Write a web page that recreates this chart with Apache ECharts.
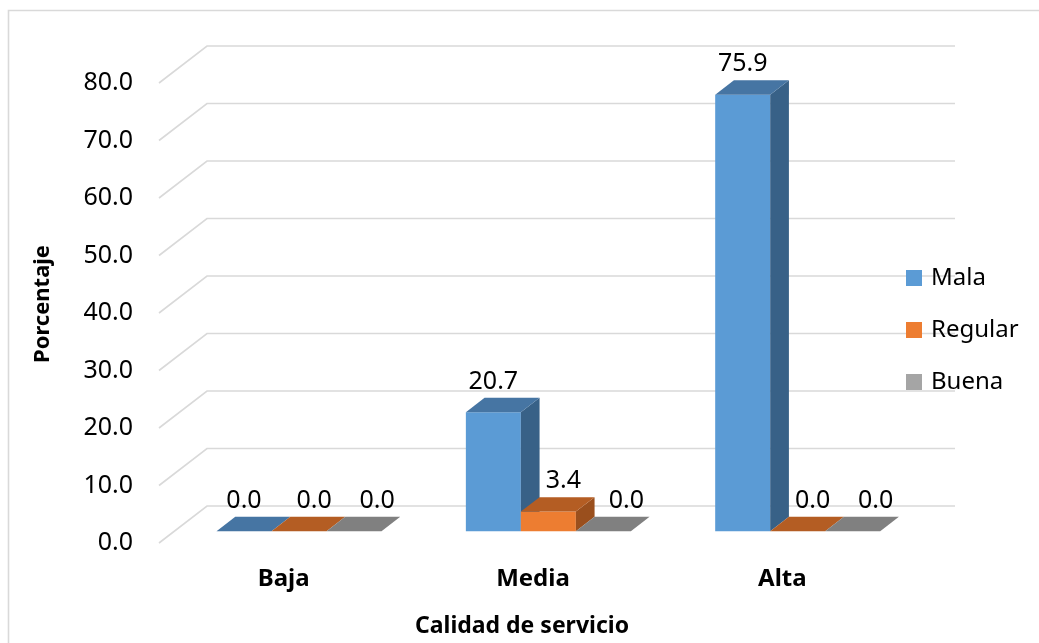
<!DOCTYPE html>
<html>
<head>
<meta charset="utf-8">
<script src="https://cdn.jsdelivr.net/npm/echarts@6/dist/echarts.min.js"></script>
<style>
  html, body { margin: 0; padding: 0; background: #ffffff; }
  #chart { width: 1039px; height: 643px; }
</style>
</head>
<body>
<div id="chart"></div>
<script>
// Categories on the horizontal axis
const categories = ['Baja', 'Media', 'Alta'];
// Series names (legend order)
const seriesNames = ['Mala', 'Regular', 'Buena'];
// Percentages per series, one value per category
const mala    = [0.0, 20.7, 75.9];
const regular = [0.0, 3.4, 0.0];
const buena   = [0.0, 0.0, 0.0];
// Value axis ticks
const valueTicks = [0, 10, 20, 30, 40, 50, 60, 70, 80];

const seriesValues = [mala, regular, buena];

// Face colours for each series: front, top, side
const faceColors = [
  { front: '#5B9BD5', top: '#4675A3', side: '#386187' },
  { front: '#ED7D31', top: '#B45D23', side: '#9A4F1D' },
  { front: '#A5A5A5', top: '#808080', side: '#6C6C6C' }
];
// Horizontal shift of each series' value label relative to its bar front
const labelShift = [0, 15, 23];

// Oblique depth of the plot box (front plane -> back wall), in pixels
const DEPTH = [48, -37];
const BAR_FRONT = 0.32;   // fraction of depth where bar fronts sit
const BAR_BACK = 0.71;    // fraction of depth where bar backs sit
const BAR_FRAC = 0.2206;  // bar width as fraction of category band

const FONT = '"Noto Sans", "Open Sans", sans-serif';

const chart = echarts.init(document.getElementById('chart'));

function gridRender(params, api) {
  const v = api.value(0);
  const cs = params.coordSys;
  const y = api.coord([0, v])[1];
  const xl = cs.x;
  const xr = cs.x + cs.width;
  return {
    type: 'polyline',
    shape: {
      points: [
        [xl, y],
        [xl + DEPTH[0], y + DEPTH[1]],
        [xr + DEPTH[0], y + DEPTH[1]]
      ]
    },
    style: { stroke: '#d9d9d9', lineWidth: 1.6, fill: null },
    silent: true
  };
}

function makeBarRender(s) {
  return function (params, api) {
    const ci = api.value(0);
    const val = api.value(1);
    const base = api.coord([ci, 0]);
    const topPt = api.coord([ci, val]);
    const band = api.size([1, 0])[0];
    const bw = band * BAR_FRAC;
    const ox = DEPTH[0] * BAR_FRONT, oy = DEPTH[1] * BAR_FRONT;
    const dx = DEPTH[0] * (BAR_BACK - BAR_FRONT), dy = DEPTH[1] * (BAR_BACK - BAR_FRONT);
    const x0 = base[0] + ox - 1.5 * bw + s * bw;
    const x1 = x0 + bw;
    const yb = base[1] + oy;
    const yt = topPt[1] + oy;
    const c = faceColors[s];
    const children = [];
    if (yb - yt > 0.1) {
      children.push({
        type: 'rect',
        shape: { x: x0, y: yt, width: bw, height: yb - yt },
        style: { fill: c.front }
      });
      children.push({
        type: 'polygon',
        shape: { points: [[x1, yt], [x1, yb], [x1 + dx, yb + dy], [x1 + dx, yt + dy]] },
        style: { fill: c.side }
      });
    }
    children.push({
      type: 'polygon',
      shape: { points: [[x0, yt], [x1, yt], [x1 + dx, yt + dy], [x0 + dx, yt + dy]] },
      style: { fill: c.top }
    });
    children.push({
      type: 'text',
      style: {
        x: x0 + bw / 2 + labelShift[s],
        y: yt + dy - 16,
        text: val.toFixed(1),
        align: 'center',
        verticalAlign: 'middle',
        fill: '#000',
        font: '25px ' + FONT
      }
    });
    return { type: 'group', children: children };
  };
}

const series = [{
  type: 'custom',
  name: '__grid',
  renderItem: gridRender,
  data: valueTicks.map(v => [v]),
  encode: { y: 0 },
  silent: true,
  z: 1
}];

seriesNames.forEach((name, s) => {
  series.push({
    type: 'custom',
    name: name,
    renderItem: makeBarRender(s),
    data: seriesValues[s].map((v, i) => [i, v]),
    encode: { x: 0, y: 1 },
    itemStyle: { color: faceColors[s].front },
    z: 2 + s
  });
});

chart.setOption({
  animation: false,
  color: faceColors.map(c => c.front),
  grid: { left: 159, right: 132, top: 83, bottom: 100 },
  xAxis: {
    type: 'category',
    data: categories,
    axisLine: { show: false },
    axisTick: { show: false },
    splitLine: { show: false },
    axisLabel: {
      margin: 24,
      color: '#000',
      fontFamily: FONT,
      fontWeight: 'bold',
      fontSize: 24
    }
  },
  yAxis: {
    type: 'value',
    min: 0,
    max: 80,
    interval: 10,
    axisLine: { show: false },
    axisTick: { show: false },
    splitLine: { show: false },
    axisLabel: {
      margin: 26,
      color: '#000',
      fontFamily: FONT,
      fontSize: 25,
      formatter: v => v.toFixed(1)
    }
  },
  legend: {
    data: seriesNames,
    orient: 'vertical',
    left: 906,
    top: 264,
    padding: 0,
    itemWidth: 16,
    itemHeight: 16,
    itemGap: 24,
    icon: 'rect',
    textStyle: {
      color: '#000',
      fontFamily: FONT,
      fontSize: 24,
      lineHeight: 28,
      padding: [0, 0, 0, 4]
    }
  },
  graphic: [
    {
      type: 'rect',
      silent: true,
      shape: { x: 8.5, y: 10.5, width: 1100, height: 700 },
      style: { fill: null, stroke: '#d9d9d9', lineWidth: 1.6 },
      z: -1
    },
    {
      type: 'text',
      silent: true,
      x: 522,
      y: 626,
      style: {
        text: 'Calidad de servicio',
        align: 'center',
        verticalAlign: 'middle',
        fill: '#000',
        font: 'bold 23px ' + FONT
      }
    },
    {
      type: 'text',
      silent: true,
      x: 43,
      y: 304,
      rotation: Math.PI / 2,
      style: {
        text: 'Porcentaje',
        align: 'center',
        verticalAlign: 'middle',
        fill: '#000',
        font: 'bold 22px ' + FONT
      }
    }
  ],
  series: series
});
</script>
</body>
</html>
